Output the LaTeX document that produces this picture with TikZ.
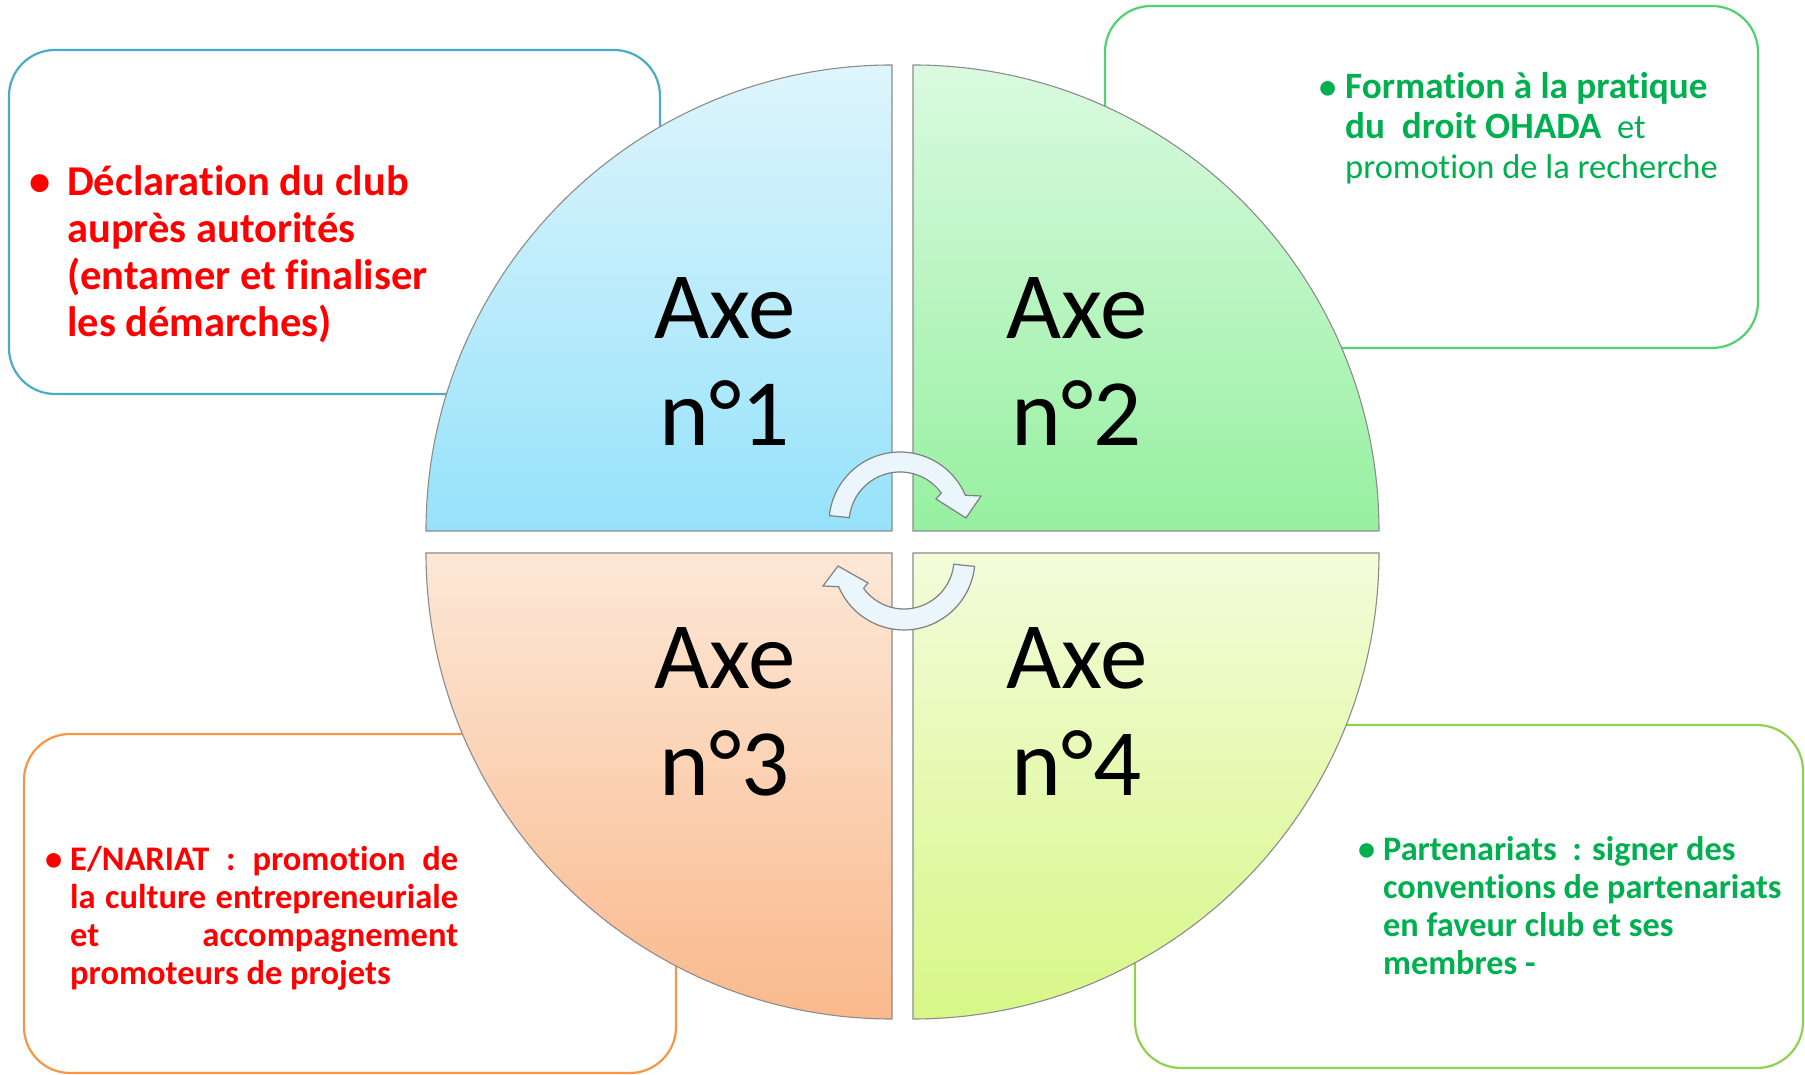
\documentclass[tikz,border=0pt]{standalone}
\usepackage{fontspec}
\setmainfont{Carlito}[RawFeature={-liga;-clig;-calt;-dlig}]
\definecolor{boxA}{RGB}{75,172,198}
\definecolor{boxB}{RGB}{80,210,110}
\definecolor{boxC}{RGB}{247,150,70}
\definecolor{boxD}{RGB}{146,208,80}
\definecolor{qAt}{RGB}{222,245,252}
\definecolor{qAb}{RGB}{150,226,250}
\definecolor{qBt}{RGB}{218,250,224}
\definecolor{qBb}{RGB}{150,240,160}
\definecolor{qCt}{RGB}{252,232,215}
\definecolor{qCb}{RGB}{250,185,140}
\definecolor{qDt}{RGB}{243,252,218}
\definecolor{qDb}{RGB}{215,247,135}
\definecolor{arrowfill}{RGB}{234,245,252}
\definecolor{txtgreen}{RGB}{0,176,80}
\definecolor{txtred}{RGB}{255,0,0}
\begin{document}
\begin{tikzpicture}[x=1pt,y=1pt,
  quad/.style={draw=black!45, line width=1.1pt},
  boxline/.style={line width=2.2pt, rounded corners=46pt, fill=white},
  arrowshape/.style={draw=black!50, line width=1.2pt, fill=arrowfill},
  axe/.style={font=\fontsize{95}{107}\selectfont, inner sep=0pt, anchor=base},
  boxtext/.style={anchor=base west, inner sep=0pt}
]
\useasboundingbox (0,0) rectangle (1805,1075);
\fill[white] (0,0) rectangle (1805,1075);

% boxes
\draw[boxline, draw=boxA] (9,681) rectangle (660,1025);
\draw[boxline, draw=boxB] (1105,727) rectangle (1758,1069);
\draw[boxline, draw=boxC] (24,2) rectangle (676,341);
\draw[boxline, draw=boxD] (1135,7) rectangle (1803,350);

% quadrants
\path[quad, top color=qAt, bottom color=qAb] (892,544) -- (426,544) arc[start angle=180, end angle=90, radius=466] -- cycle;
\path[quad, top color=qBt, bottom color=qBb] (913,544) -- (913,1010) arc[start angle=90, end angle=0, radius=466] -- cycle;
\path[quad, top color=qCt, bottom color=qCb] (892,522) -- (426,522) arc[start angle=180, end angle=270, radius=466] -- cycle;
\path[quad, top color=qDt, bottom color=qDb] (913,522) -- (913,56) arc[start angle=270, end angle=360, radius=466] -- cycle;

% circular arrows
\path[arrowshape] (829.4,559.4) arc[start angle=174, end angle=23, radius=71] -- (981,579) -- (966,557) -- (936,576) -- (941.3,582) arc[start angle=36, end angle=174, radius=51] -- cycle;
\path[arrowshape] (974.6,508.6) arc[start angle=-6, end angle=-157, radius=71] -- (823,489) -- (838,509) -- (868,492) -- (863.6,486.6) arc[start angle=-144, end angle=-6, radius=50] -- cycle;

% axis labels
\node[axe] (a1a) at (725,736) {Axe};
\node[axe] (a1b) at (725,629) {n°1};
\node[axe] (a2a) at (1077,736) {Axe};
\node[axe] (a2b) at (1077,629) {n°2};
\node[axe] (a3a) at (725,386) {Axe};
\node[axe] (a3b) at (725,279) {n°3};
\node[axe] (a4a) at (1077,386) {Axe};
\node[axe] (a4b) at (1077,279) {n°4};

% box texts
\node[boxtext, text=txtred, font=\bfseries\fontsize{42.5}{47}\selectfont] (t1) at (67,879)
  {\parbox[t]{560pt}{\leavevmode\llap{\textbullet\hspace{17pt}}Déclaration du club\\auprès autorités\\(entamer et finaliser\\les démarches)}};
\node[boxtext, text=txtgreen, font=\fontsize{34.5}{40}\selectfont] (t2) at (1345,976)
  {\parbox[t]{400pt}{\leavevmode\llap{\textbf{\textbullet}\hspace{9pt}}{\bfseries\fontsize{37.2}{40}\selectfont Formation à la pratique}\\{\bfseries\fontsize{37.2}{40}\selectfont du\ \ droit OHADA}\ \ et\\promotion de la recherche}};
\node[boxtext, text=txtred, font=\bfseries\fontsize{34.5}{38}\selectfont] (t3) at (70,204)
  {\parbox[t]{400pt}{\leavevmode\llap{\textbullet\hspace{8pt}}\makebox[388pt][s]{E/NARIAT : promotion de}\\\makebox[388pt][s]{la culture entrepreneuriale}\\\makebox[388pt][s]{et accompagnement}\\promoteurs de projets}};
\node[boxtext, text=txtgreen, font=\bfseries\fontsize{34.3}{38}\selectfont] (t4) at (1383,214)
  {\parbox[t]{410pt}{\leavevmode\llap{\textbullet\hspace{8pt}}Partenariats\ \ : signer des\\conventions de partenariats\\en faveur club et ses\\membres -}};
\end{tikzpicture}
\end{document}
